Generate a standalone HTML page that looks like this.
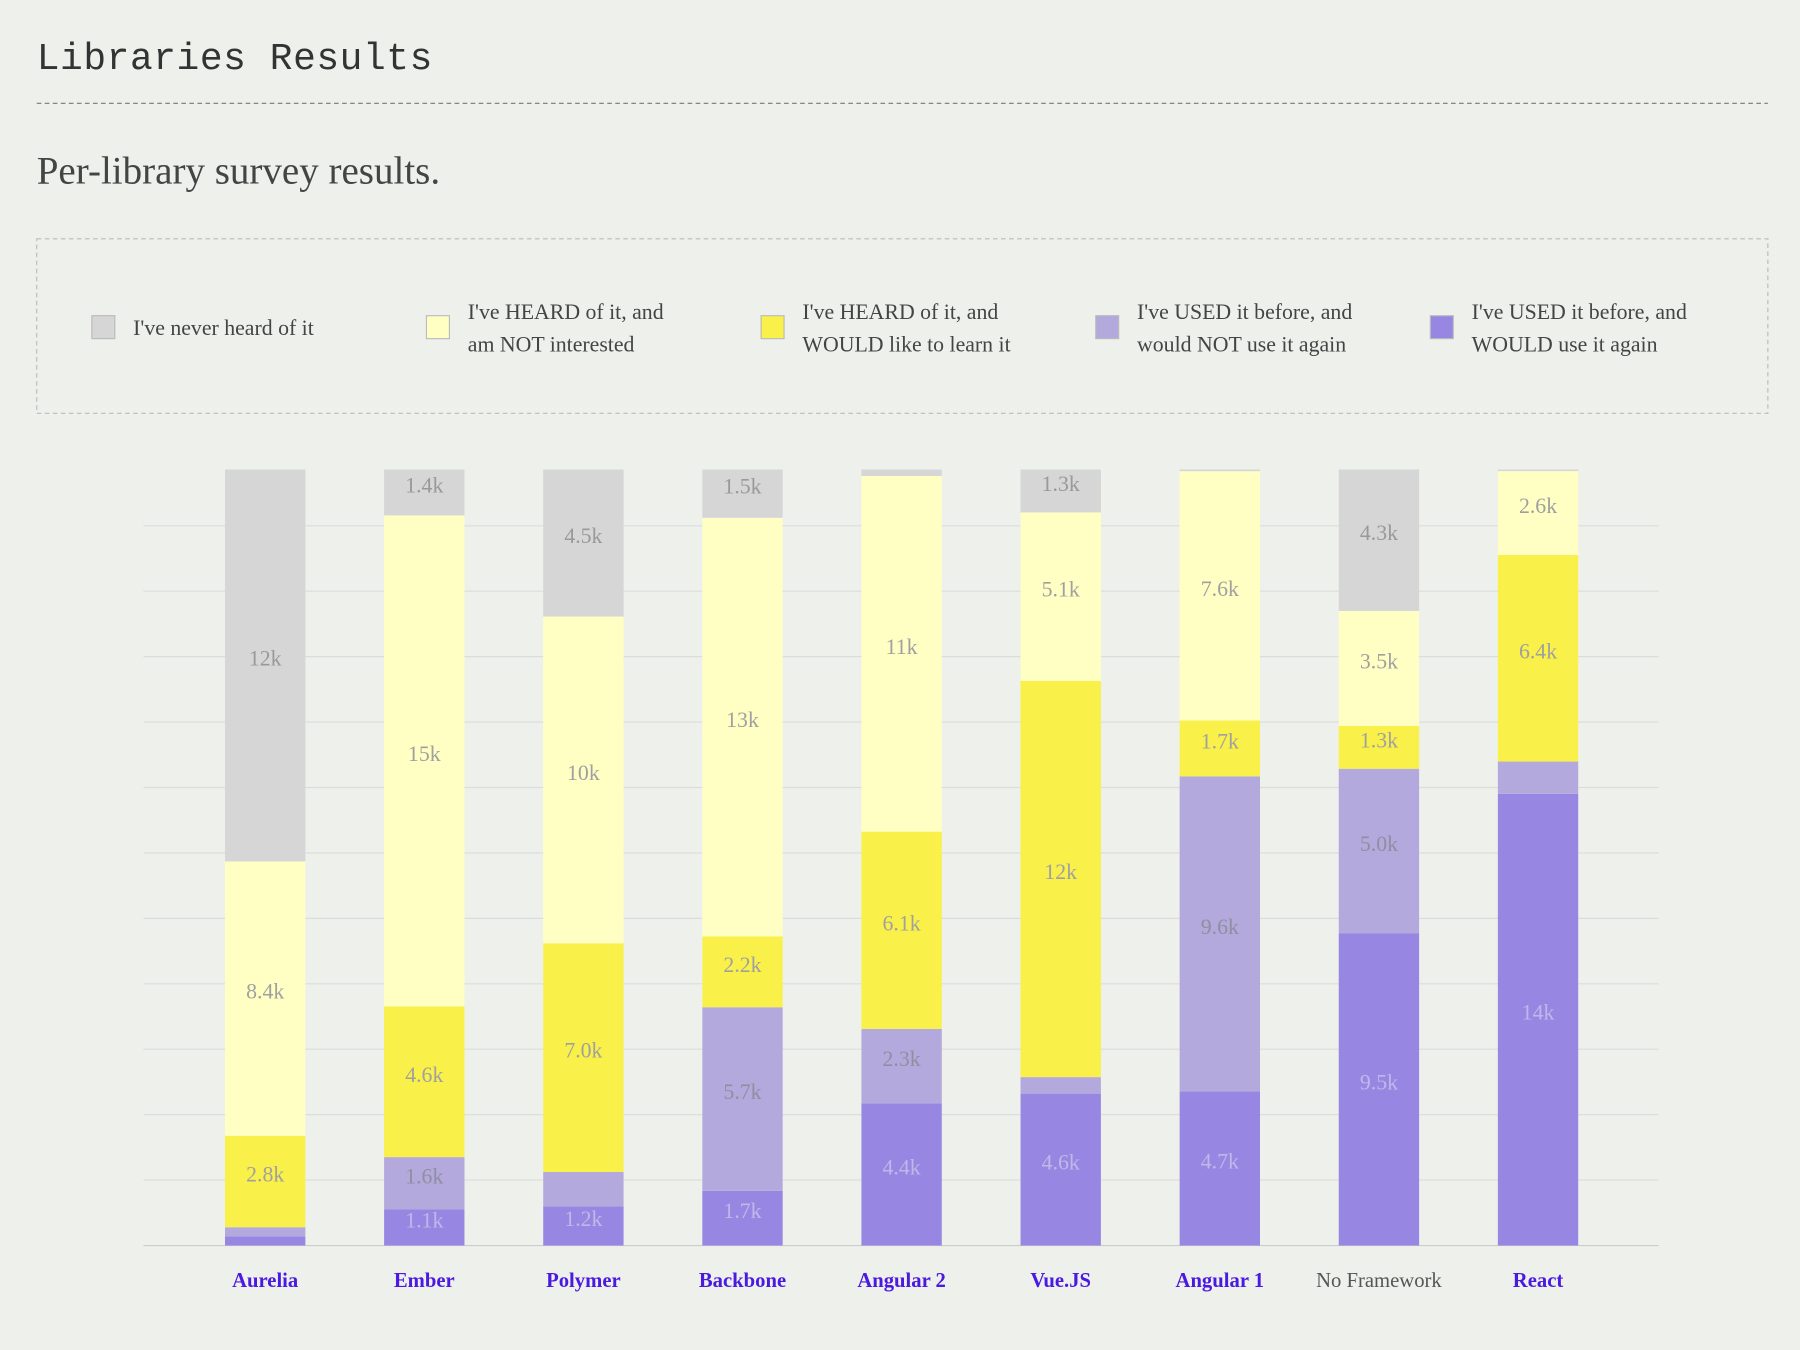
<!DOCTYPE html>
<html><head><meta charset="utf-8"><style>
html,body{margin:0;padding:0;background:#eef0ec;}
svg{display:block;}
</style></head><body>
<svg id="page" width="1800" height="1350" viewBox="0 0 1568 1176" xmlns="http://www.w3.org/2000/svg">
<rect width="1568" height="1176" fill="#eef0ec"/>
<text x="32" y="60" font-family="Liberation Mono, monospace" font-size="33" fill="#333" letter-spacing="0.5">Libraries Results</text>
<line x1="32" y1="90" x2="1540" y2="90" stroke="#777" stroke-dasharray="4,3"/>
<text x="32" y="160" font-family="Liberation Serif, serif" font-size="34" fill="#444">Per-library survey results.</text>
<g>
<rect x="32" y="208" width="1508" height="152" fill="none" stroke="#bbb" stroke-dasharray="4,3"/>
<g id="legend-items"></g>
</g>
<g id="grid"></g>
<g id="bars"></g>
<g id="xlabels"></g>
</svg>
<script>
const categories = ["Aurelia","Ember","Polymer","Backbone","Angular 2","Vue.JS","Angular 1","No Framework","React"];
const seriesNames = ["I've never heard of it","I've HEARD of it, and|am NOT interested","I've HEARD of it, and|WOULD like to learn it","I've USED it before, and|would NOT use it again","I've USED it before, and|WOULD use it again"];
const neverHeard = [12, 1.4, 4.5, 1.5, 0.2, 1.3, 0.05, 4.3, 0.05];
const notInterested = [8.4, 15, 10, 13, 11, 5.1, 7.6, 3.5, 2.6];
const wouldLearn = [2.8, 4.6, 7.0, 2.2, 6.1, 12, 1.7, 1.3, 6.4];
const usedNotAgain = [0.28, 1.6, 1.05, 5.7, 2.3, 0.5, 9.6, 5.0, 1.0];
const usedAgain = [0.28, 1.1, 1.2, 1.7, 4.4, 4.6, 4.7, 9.5, 14];
const labelNever = ["12k","1.4k","4.5k","1.5k","","1.3k","","4.3k",""];
const labelNotInt = ["8.4k","15k","10k","13k","11k","5.1k","7.6k","3.5k","2.6k"];
const labelLearn = ["2.8k","4.6k","7.0k","2.2k","6.1k","12k","1.7k","1.3k","6.4k"];
const labelUsedNo = ["","1.6k","","5.7k","2.3k","","9.6k","5.0k",""];
const labelUsedYes = ["","1.1k","1.2k","1.7k","4.4k","4.6k","4.7k","9.5k","14k"];
const highlighted = [true,true,true,true,true,true,true,false,true];

const colors = ["#d6d6d6","#ffffc4","#f9f04a","#b3a9dd","#9887e2"];
const labelColors = ["#999","#a0a0a0","#a0a0a0","#8f8fa0","#c0b8e8"];
const NS="http://www.w3.org/2000/svg";
function mk(tag, attrs, parent){const e=document.createElementNS(NS,tag);for(const k in attrs)e.setAttribute(k,attrs[k]);parent.appendChild(e);return e;}
const top0=409, base=1085, plotH=base-top0, x0=125, x1=1445;
const xCenter = i => 231 + i*138.6;
const yScale = f => base - f*plotH;

const lg=document.getElementById('legend-items');
seriesNames.forEach((n,i)=>{
  const lx=80+i*291.5;
  const r=mk('rect',{x:lx,y:275,width:20,height:20,fill:colors[i],stroke:'#bbb','stroke-width':1},lg);
  
  
  const lines=n.split('|');
  const t=mk('text',{x:lx+36,y:lines.length>1?278:292,'font-family':'Liberation Serif, serif','font-size':19,fill:'#444'},lg);
  
  
  lines.forEach((l,j)=>{const ts=mk('tspan',{x:lx+36,dy:j?28:0},t);ts.textContent=l;});
});

const gg=document.getElementById('grid');
for(let k=0;k<=11;k++){
  const y=base-k*57;
  const ln=mk('line',{x1:x0,x2:x1,y1:y,y2:y,stroke:k?'#dcdcdc':'#ccc','stroke-width':1},gg);
  
  
}

const series=[neverHeard,notInterested,wouldLearn,usedNotAgain,usedAgain];
const labels=[labelNever,labelNotInt,labelLearn,labelUsedNo,labelUsedYes];
const bg=document.getElementById('bars');
const bw=70;
categories.forEach((c,i)=>{
  const total=series.reduce((s,a)=>s+a[i],0);
  let cum=0;
  for(let s=4;s>=0;s--){
    const v=series[s][i];
    const yB=yScale(cum/total), yT=yScale((cum+v)/total);
    cum+=v;
    const r=mk('rect',{x:xCenter(i)-bw/2,y:yT,width:bw,height:yB-yT,fill:colors[s]},bg);
    
    
    if(labels[s][i]){
      const t=mk('text',{x:xCenter(i),y:(yT+yB)/2,'text-anchor':'middle','font-family':'Liberation Serif, serif','font-size':19,fill:labelColors[s]},bg);
      
      
      t.textContent=labels[s][i];
    }
  }
});

const xg=document.getElementById('xlabels');
categories.forEach((c,i)=>{
  const t=mk('text',{x:xCenter(i),y:1121,'text-anchor':'middle','font-family':'Liberation Serif, serif','font-size':18,'font-weight':highlighted[i]?'bold':'normal',fill:highlighted[i]?'#4a1ae0':'#555'},xg);
  
  
  t.textContent=c;
});
</script>
</body></html>
